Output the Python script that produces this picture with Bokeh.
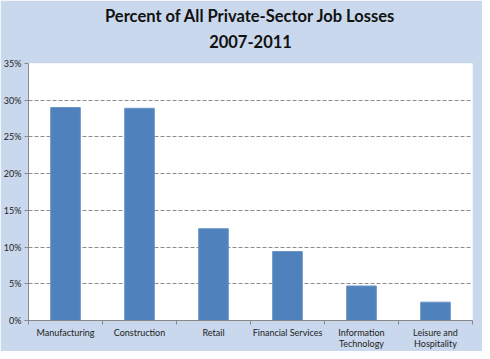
from bokeh.plotting import figure
from bokeh.models import FixedTicker, Title, Range1d, NumeralTickFormatter, ColumnDataSource
from bokeh.embed import file_html
from bokeh.resources import INLINE

title_lines = ["Percent of All Private-Sector Job Losses", "2007-2011"]
categories = ["Manufacturing", "Construction", "Retail", "Financial Services",
              "Information\nTechnology", "Leisure and\nHospitality"]
values = [0.290, 0.289, 0.125, 0.094, 0.047, 0.025]
y_ticks = [0, 0.05, 0.10, 0.15, 0.20, 0.25, 0.30, 0.35]

xs = list(range(1, len(categories) + 1))
src = ColumnDataSource(dict(x=xs, top=values))

FONT = "Lato"
BG = "#c9d8ec"

p = figure(width=482, height=351, output_backend="svg", toolbar_location=None,
           x_range=Range1d(0.5, len(categories) + 0.5), y_range=Range1d(0, 0.35),
           min_border_left=24, min_border_right=10, min_border_bottom=30, min_border_top=0)
p.background_fill_color = "white"
p.border_fill_color = BG
p.outline_line_color = None

p.vbar(x="x", top="top", width=0.4, source=src, fill_color="#4f81bd",
       line_color="#6a93c6", line_width=1)

# spacer between the title block and the plot area
p.add_layout(Title(text=" ", text_font_size="1px", standoff=9), "above")
p.add_layout(Title(text=title_lines[1], align="center", text_font=FONT,
                   text_font_size="16.5px", text_font_style="bold", text_color="#111111",
                   standoff=7), "above")
p.add_layout(Title(text=title_lines[0], align="center", text_font=FONT,
                   text_font_size="16.5px", text_font_style="bold", text_color="#111111",
                   standoff=7), "above")

p.yaxis.ticker = FixedTicker(ticks=y_ticks)
p.yaxis.formatter = NumeralTickFormatter(format="0%")
p.yaxis.axis_line_color = "#888888"
p.yaxis.major_tick_line_color = "#888888"
p.yaxis.major_tick_out = 4
p.yaxis.major_tick_in = 0
p.yaxis.minor_tick_line_color = None
p.yaxis.major_label_text_font = FONT
p.yaxis.major_label_text_font_size = "9px"
p.yaxis.major_label_text_color = "#222222"
p.yaxis.major_label_standoff = 3

p.xaxis.ticker = FixedTicker(ticks=xs, minor_ticks=[x - 0.5 for x in xs] + [len(xs) + 0.5])
p.xaxis.major_label_overrides = {x: c for x, c in zip(xs, categories)}
p.xaxis.axis_line_color = "#888888"
p.xaxis.major_tick_line_color = None
p.xaxis.major_tick_out = 0
p.xaxis.major_tick_in = 0
p.xaxis.minor_tick_line_color = "#888888"
p.xaxis.minor_tick_out = 4
p.xaxis.minor_tick_in = 0
p.xaxis.major_label_text_font = FONT
p.xaxis.major_label_text_font_size = "9px"
p.xaxis.major_label_text_color = "#222222"
p.xaxis.major_label_text_line_height = 1.0
p.xaxis.major_label_standoff = 2

p.xgrid.grid_line_color = None
p.ygrid.grid_line_color = "#8c8c8c"
p.ygrid.grid_line_dash = "4 2"
p.ygrid.grid_line_width = 1

open("out.html", "w").write(file_html(p, INLINE))
